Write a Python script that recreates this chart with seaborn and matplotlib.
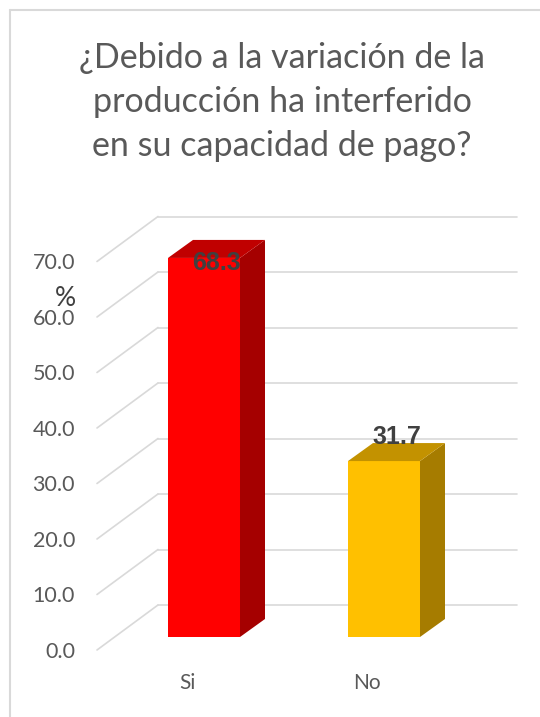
import matplotlib
matplotlib.use('Agg')
import matplotlib.pyplot as plt
import seaborn as sns
import numpy as np
from matplotlib.patches import Polygon
from matplotlib.lines import Line2D

categorias = ['Si', 'No']
porcentajes = [68.3, 31.7]
etiquetas = ['68.3', '31.7']
ticks_y = [0, 10, 20, 30, 40, 50, 60, 70]
titulo = '¿Debido a la variación de la\nproducción ha interferido\nen su capacidad de pago?'

col_frente = ['#FF0000', '#FFC000']
col_lado = ['#A50000', '#A67C00']
col_tope = ['#C00000', '#C39200']

sns.set_theme(style='white')
plt.rcParams['font.family'] = ['Lato', 'DejaVu Sans']

# pixel scale of the chart: 180 px per category, 5.55 px per unit
PX, PY = 180.0, 5.55
X0, Y0 = 204.0, 637.0  # pixel of category 0 / value 0 on the bar front plane
W, H = 540, 717

fig = plt.figure(figsize=(W / 100, H / 100), dpi=100)
ax = fig.add_axes([0, 0, 1, 1])

sns.barplot(x=categorias, y=porcentajes, hue=categorias, palette=col_frente,
            width=0.4, legend=False, ax=ax, saturation=1, zorder=3,
            linewidth=0, edgecolor='none')

ax.set_xlim(-X0 / PX, (W - X0) / PX)
ax.set_ylim((Y0 - H) / PY, Y0 / PY)
ax.axis('off')

# depth of bars and walls in data units
bdx, bdy = 25 / PX, 18 / PY
front_x, back_x, right_x = (97 - X0) / PX, (158 - X0) / PX, (517 - X0) / PX
front_dy, back_dy = (Y0 - 650) / PY, (Y0 - 605) / PY

grid_col = '#D9D9D9'
for v in ticks_y:
    ax.plot([front_x, back_x], [v + front_dy, v + back_dy], color=grid_col, lw=1.2, zorder=1)
    ax.plot([back_x, right_x], [v + back_dy, v + back_dy], color=grid_col, lw=1.2, zorder=1)
    ax.text((75 - X0) / PX, v + front_dy - 0.3, f'{v:.1f}', ha='right', va='center',
            fontsize=15.5, color='#595959')

for i, bar in enumerate(ax.patches):
    x0 = bar.get_x()
    x1 = x0 + bar.get_width()
    h = bar.get_height()
    lado = Polygon([(x1, 0), (x1 + bdx, bdy), (x1 + bdx, h + bdy), (x1, h)],
                   closed=True, facecolor=col_lado[i], edgecolor='none', zorder=3)
    tope = Polygon([(x0, h), (x0 + bdx, h + bdy), (x1 + bdx, h + bdy), (x1, h)],
                   closed=True, facecolor=col_tope[i], edgecolor='none', zorder=3)
    ax.add_patch(lado)
    ax.add_patch(tope)

lab_dy = [-0.9, 4.3]
for i, bar in enumerate(ax.patches[:len(categorias)]):
    cx = bar.get_x() + bar.get_width() / 2 + bdx / 2
    ax.text(cx, porcentajes[i] + lab_dy[i], etiquetas[i], ha='center', va='center',
            fontsize=18, fontweight='bold', color='#404040', zorder=5,
            family=['Liberation Sans', 'DejaVu Sans'])

for i, c in enumerate(categorias):
    ax.text(i - 17 / PX, (Y0 - 683) / PY, c, ha='center', va='center',
            fontsize=15, color='#595959')

ax.text((65 - X0) / PX, (Y0 - 299) / PY, '%', ha='center', va='center',
        fontsize=19, color='#404040', fontstretch='condensed')

fig.text(282 / W, 1 - 102 / H, titulo, ha='center', va='center', fontsize=24.5,
         color='#595959', linespacing=1.48)

# chart frame (top and left edges visible)
fig.add_artist(Line2D([10 / W, 1], [1 - 10 / H, 1 - 10 / H], transform=fig.transFigure,
                      color=grid_col, lw=1.5))
fig.add_artist(Line2D([10 / W, 10 / W], [0, 1 - 10 / H], transform=fig.transFigure,
                      color=grid_col, lw=1.5))

fig.savefig('out.png', dpi=100, facecolor='white')
